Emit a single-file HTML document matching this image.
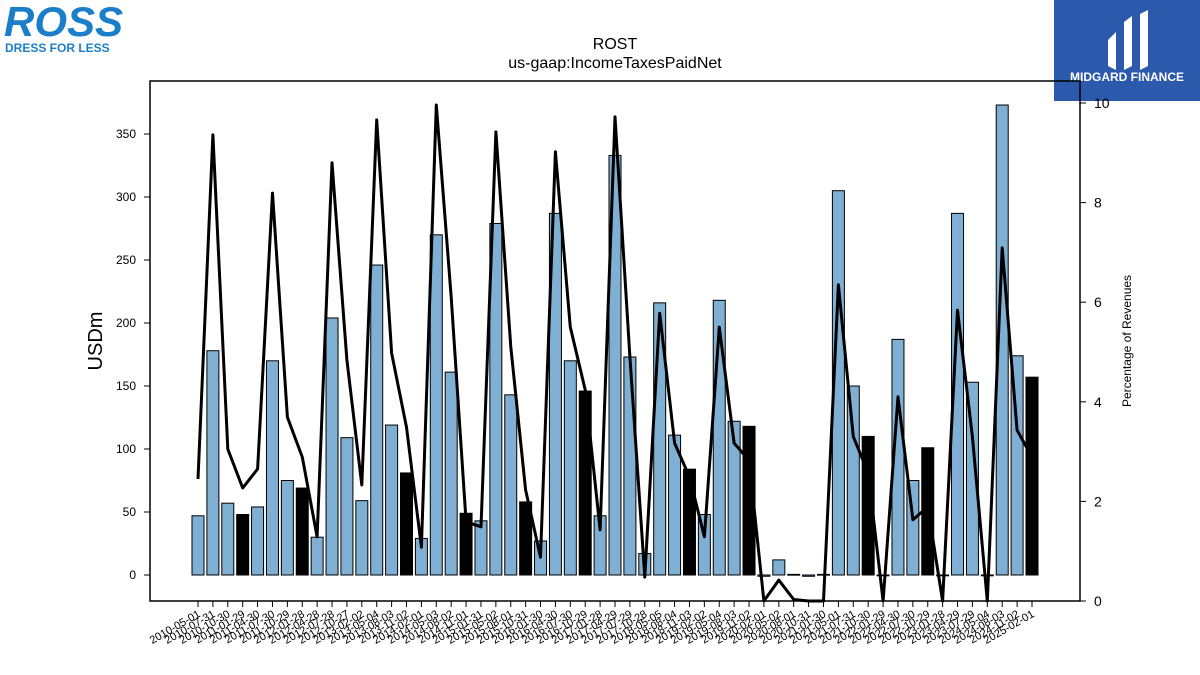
<!DOCTYPE html>
<html><head><meta charset="utf-8"><style>
body{margin:0;background:#fff;}
svg{display:block;font-family:"Liberation Sans","DejaVu Sans",sans-serif;}
</style></head><body>
<svg id="chart" width="1200" height="675" viewBox="0 0 1200 675">
  <g>
    <text x="4" y="36" font-size="42" font-weight="bold" fill="#1a7fc8" font-style="italic">ROSS</text>
    <text x="5" y="52" font-size="12" font-weight="bold" fill="#1a7fc8">DRESS FOR LESS</text>
  </g>
  <g>
    <rect x="1054" y="0" width="146" height="101" fill="#2b59ac"/>
    <path d="M1108 40 L1116 32 L1116 70 L1108 66 Z M1124 22 L1132 16 L1132 66 L1124 70 Z M1140 14 L1148 10 L1148 66 L1140 70 Z" fill="#fff"/>
    <text x="1127" y="81" font-size="12" font-weight="bold" fill="#fff" text-anchor="middle">MIDGARD FINANCE</text>
  </g>
  <text x="615" y="49" font-size="16" text-anchor="middle">ROST</text>
  <text x="615" y="68" font-size="16" text-anchor="middle">us-gaap:IncomeTaxesPaidNet</text>
  <g id="bars"></g>
  <g id="line"></g>
  <rect x="150" y="81" width="930" height="520" fill="none" stroke="#000" stroke-width="1.5"/>
  <g id="yleft"></g>
  <g id="yright"></g>
  <g id="xaxis"></g>
  <text x="102" y="341" font-size="20" text-anchor="middle" transform="rotate(-90 102 341)">USDm</text>
  <text x="1131" y="341" font-size="12" text-anchor="middle" transform="rotate(-90 1131 341)">Percentage of Revenues</text>
</svg>
<script>
const categories = ["2010-05-01","2010-07-31","2010-10-30","2011-01-29","2011-04-30","2011-07-30","2011-10-29","2012-01-28","2012-04-28","2012-07-28","2012-10-27","2013-02-02","2013-05-04","2013-08-03","2013-11-02","2014-02-01","2014-05-03","2014-08-02","2014-11-01","2015-01-31","2015-05-02","2015-08-01","2015-10-31","2016-01-30","2016-04-30","2016-07-30","2016-10-29","2017-01-28","2017-04-29","2017-07-29","2017-10-28","2018-05-05","2018-08-04","2018-11-03","2019-02-02","2019-05-04","2019-08-03","2019-11-02","2020-02-01","2020-05-02","2020-08-01","2020-10-31","2021-01-30","2021-05-01","2021-07-31","2021-10-30","2022-01-29","2022-04-30","2022-07-30","2022-10-29","2023-01-28","2023-04-29","2023-07-29","2024-05-04","2024-08-03","2024-11-02","2025-02-01"];
const taxesPaid = [47,178,57,48,54,170,75,69,30,204,109,59,246,119,81,29,270,161,49,43,279,143,58,27,287,170,146,47,333,173,17,216,111,84,48,218,122,118,-1,12,0.5,-1,0.5,305,150,110,0,187,75,101,0,287,153,0,373,174,157];
const fiscalYearEnd = [0,0,0,1,0,0,0,1,0,0,0,0,0,0,1,0,0,0,1,0,0,0,1,0,0,0,1,0,0,0,0,0,0,1,0,0,0,1,0,0,0,0,0,0,0,1,0,0,0,1,0,0,0,0,0,0,1];
const pctRevenue = [2.45,9.36,3.05,2.27,2.65,8.19,3.69,2.89,1.29,8.8,4.84,2.33,9.66,4.98,3.49,1.08,9.96,6.1,1.59,1.49,9.42,5.1,2.23,0.88,9.02,5.5,4.24,1.43,9.72,4.9,0.48,5.78,3.17,2.49,1.29,5.5,3.17,2.83,0,0.42,0.03,0,0,6.35,3.3,2.57,0,4.1,1.63,1.89,0,5.84,3.3,0,7.09,3.43,2.89];
const leftTicks = [0,50,100,150,200,250,300,350];
const rightTicks = [0,2,4,6,8,10];

const NS="http://www.w3.org/2000/svg";
const X0=198, DX=(1032-198)/(categories.length-1);
function xPos(i){return X0+i*DX;}
function yL(v){return 575 - v*63/50;}
function yR(v){return 601 - v*49.8;}
function mk(tag,attrs,parent){const e=document.createElementNS(NS,tag);for(const k in attrs)e.setAttribute(k,attrs[k]);parent.appendChild(e);return e;}

const gb=document.getElementById('bars');
taxesPaid.forEach((v,i)=>{
  const y0=yL(0), y1=yL(v);
  const r=mk('rect',{x:xPos(i)-6,y:Math.min(y0,y1),width:12,height:Math.max(Math.abs(y1-y0),0.8),fill:fiscalYearEnd[i]?'#000':'#7fb0d3',stroke:'#000','stroke-width':1},gb);
  
  
});
const gl=document.getElementById('line');
const pts=pctRevenue.map((v,i)=>xPos(i).toFixed(1)+','+yR(v).toFixed(1)).join(' ');
const pl=mk('polyline',{points:pts,fill:'none',stroke:'#000','stroke-width':3,'stroke-linejoin':'round'},gl);



const gyl=document.getElementById('yleft');
leftTicks.forEach(t=>{
  const y=yL(t);
  const l=mk('line',{x1:144,x2:150,y1:y,y2:y,stroke:'#000','stroke-width':1},gyl);
  
  
  const tx=mk('text',{x:136,y:y+4,'font-size':12,'text-anchor':'end'},gyl);
  tx.textContent=t;
  
  
});
const gyr=document.getElementById('yright');
rightTicks.forEach(t=>{
  const y=yR(t);
  const l=mk('line',{x1:1080,x2:1086,y1:y,y2:y,stroke:'#000','stroke-width':1},gyr);
  
  
  const tx=mk('text',{x:1094,y:y+5,'font-size':14},gyr);
  tx.textContent=t;
  
  
});
const gx=document.getElementById('xaxis');
categories.forEach((c,i)=>{
  const x=xPos(i);
  const l=mk('line',{x1:x,x2:x,y1:601,y2:607,stroke:'#000','stroke-width':1},gx);
  
  
  const tx=mk('text',{x:x+3,y:616,'font-size':11,'text-anchor':'end',transform:`rotate(-30 ${x+3} 616)`},gx);
  tx.textContent=c;
  
  
});
</script>
</body></html>
